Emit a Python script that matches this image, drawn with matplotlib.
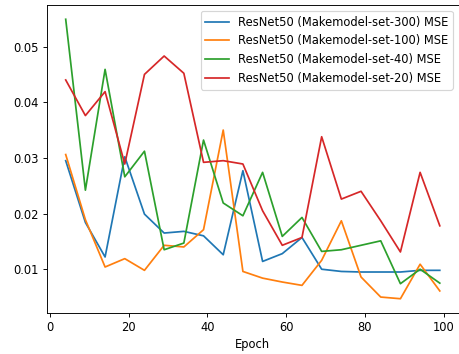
import numpy as np
import matplotlib
matplotlib.use('Agg')
import matplotlib.pyplot as plt

epochs = list(range(4, 100, 5))

mse_300 = [0.0295, 0.0184, 0.0122, 0.0302, 0.0199, 0.0165, 0.0168, 0.0160, 0.0126, 0.0277,
           0.0114, 0.0128, 0.0157, 0.0100, 0.0096, 0.0095, 0.0095, 0.0095, 0.0098, 0.0098]
mse_100 = [0.0306, 0.0189, 0.0104, 0.0119, 0.0098, 0.0143, 0.0140, 0.0171, 0.0350, 0.0096,
           0.0084, 0.0077, 0.0071, 0.0116, 0.0187, 0.0086, 0.0050, 0.0047, 0.0109, 0.0061]
mse_40 = [0.0549, 0.0242, 0.0459, 0.0266, 0.0312, 0.0135, 0.0147, 0.0332, 0.0219, 0.0196,
          0.0274, 0.0159, 0.0193, 0.0132, 0.0135, 0.0143, 0.0151, 0.0074, 0.0100, 0.0075]
mse_20 = [0.0440, 0.0376, 0.0419, 0.0289, 0.0450, 0.0483, 0.0452, 0.0292, 0.0295, 0.0289,
          0.0205, 0.0143, 0.0157, 0.0338, 0.0226, 0.0240, 0.0187, 0.0131, 0.0274, 0.0178]

series = [
    ('ResNet50 (Makemodel-set-300) MSE', mse_300),
    ('ResNet50 (Makemodel-set-100) MSE', mse_100),
    ('ResNet50 (Makemodel-set-40) MSE', mse_40),
    ('ResNet50 (Makemodel-set-20) MSE', mse_20),
]

DPI = 83
fig = plt.figure(figsize=(459 / DPI, 354 / DPI), dpi=DPI)
ax = fig.add_axes([47 / 459, 41.3 / 354, 411.5 / 459, 307.4 / 354])
for label, vals in series:
    ax.plot(epochs, vals, label=label)
ax.set_xlabel('Epoch')
ax.legend(loc='upper right')
fig.savefig('out.png', dpi=DPI)
